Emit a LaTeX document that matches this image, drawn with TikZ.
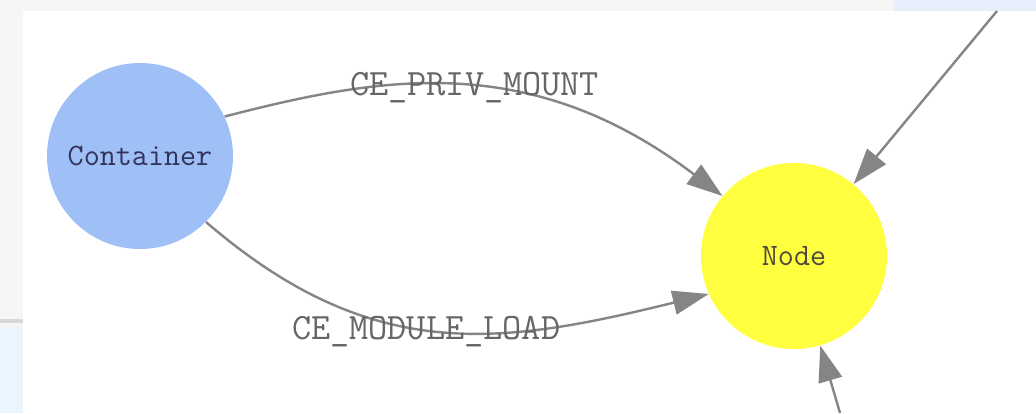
\documentclass[tikz,border=0pt]{standalone}
\usetikzlibrary{arrows.meta,positioning}

\definecolor{pagegray}{HTML}{F6F6F6}
\definecolor{tabblue}{HTML}{E8EFFC}
\definecolor{sideblue}{HTML}{EAF5FE}
\definecolor{rulegray}{HTML}{D8D8D8}
\definecolor{contblue}{HTML}{9FC0F7}
\definecolor{nodeyellow}{HTML}{FFFF40}
\definecolor{linkgray}{HTML}{858585}

\begin{document}
\begin{tikzpicture}[x=0.5pt,y=-0.5pt,>={Triangle[length=18pt,width=12pt]},
		main node/.style={circle,minimum size=93pt,inner sep=0pt,
			font=\ttfamily\fontsize{15.6}{18}\selectfont},
		link/.style={->,draw=linkgray,line width=1.2pt},
		link label/.style={font=\ttfamily\fontsize{18.6}{22}\selectfont,
			text=black!60,inner sep=0pt}]
	\useasboundingbox (0,0) rectangle (1036,413);
	%
	% Page around the drawing area.
	\fill[pagegray] (0,0) rectangle (1036,413);
	\fill[tabblue] (894,0) rectangle (1036,11);
	\fill[rulegray] (0,319) rectangle (23,323);
	\fill[sideblue] (0,327) rectangle (23,413);
	\fill[white] (23,11) rectangle (1036,413);
	%
	\node[main node,fill=contblue,text=blue!20!black!80] (cont) at (140,156) {Container};
	\node[main node,fill=nodeyellow,text=black!80!yellow] (nd) at (794,256) {Node};
	\coordinate (upper) at (997,11);
	\coordinate (lower) at (840,413);
	%
	% Curved links from the container.
	\draw[link] (cont.25) .. controls (381,76) and (530,50) ..
		node[link label,pos=0.53] {CE\_PRIV\_MOUNT} (nd.140);
	\draw[link] (cont.-45) .. controls (371,364) and (498,346) ..
		node[link label,pos=0.47,yshift=-1pt] {CE\_MODULE\_LOAD} (nd.204);
	%
	% Links coming in from outside the view.
	\draw[link] (upper) -- (nd);
	\draw[link] (lower) -- (nd);
\end{tikzpicture}
\end{document}
